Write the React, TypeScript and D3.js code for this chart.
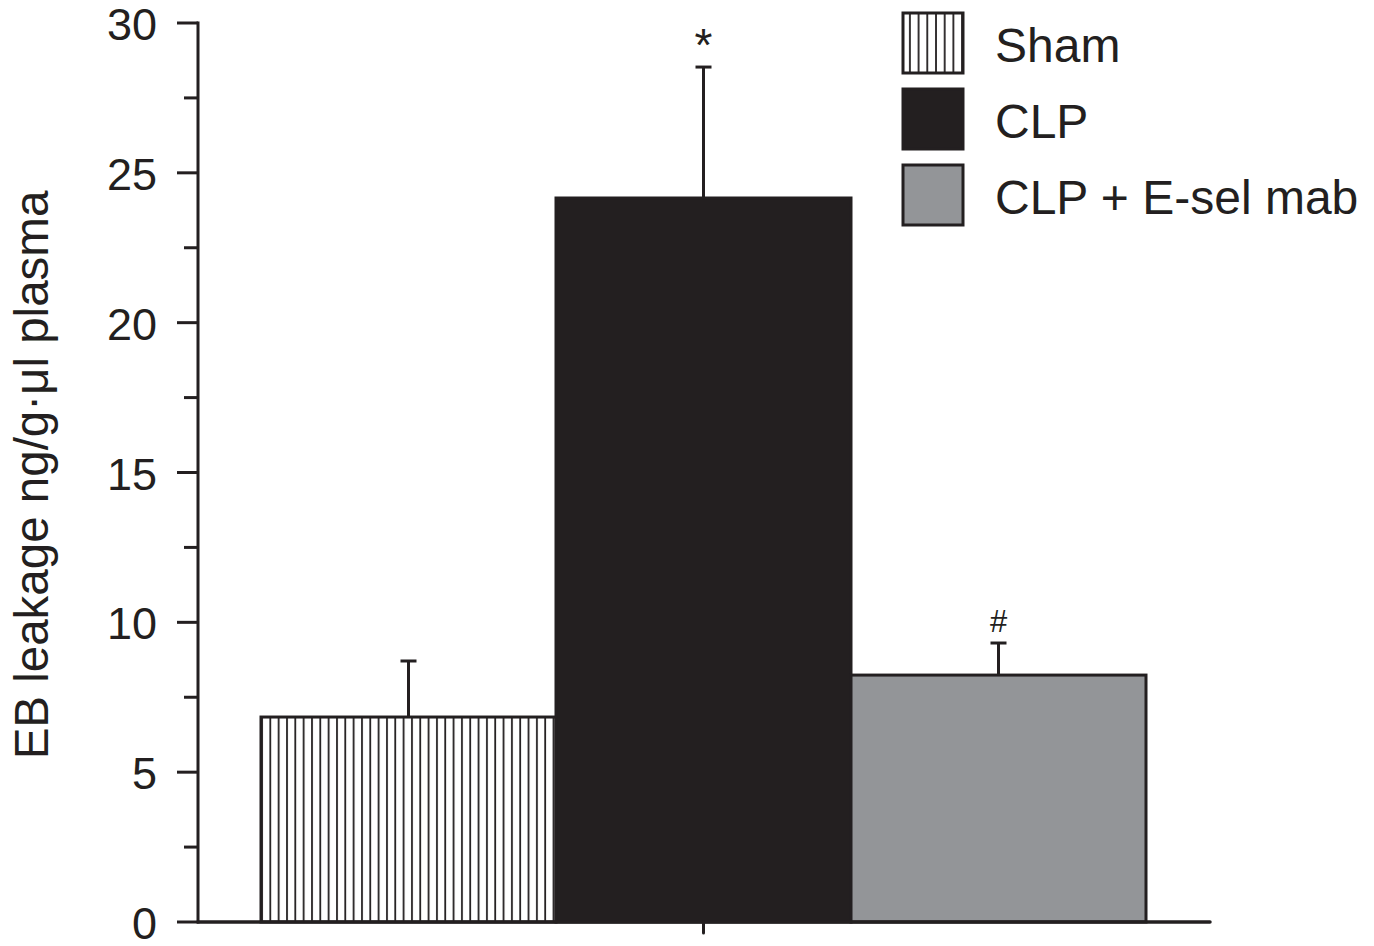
import * as d3 from "d3";
import React from "react";

// values
const groups = ["Sham", "CLP", "CLP + E-sel mab"];
const means = [6.84, 24.16, 8.24];
const errors = [1.87, 4.37, 1.07];
const marks = ["", "*", "#"];
const yTicks = [0, 5, 10, 15, 20, 25, 30];
const yMinorTicks = [2.5, 7.5, 12.5, 17.5, 22.5, 27.5];

const ink = "#231f20";
const grey = "#939598";
const font = "'Liberation Sans', Arial, Helvetica, sans-serif";

export default function App() {
  const width = 1374;
  const height = 946;
  const axisX = 198;
  const axisY = 922;

  const y = d3.scaleLinear().domain([0, 30]).range([axisY, 23]);
  const x = d3.scaleBand().domain(groups).range([261, 1146]).padding(0);

  const fills = ["url(#hatch)", ink, grey];
  const legendFills = ["url(#hatchLegend)", ink, grey];

  return (
    <svg
      width={width}
      height={height}
      style={{ position: "absolute", left: 0, top: 0, background: "#fff" }}
      fontFamily={font}
    >
      <defs>
        <pattern id="hatch" patternUnits="userSpaceOnUse" x={261} y={0} width={8.33} height={10}>
          <rect width={8.33} height={10} fill="#fff" />
          <line x1={1} x2={1} y1={0} y2={10} stroke={ink} strokeWidth={1.8} />
        </pattern>
        <pattern id="hatchLegend" patternUnits="userSpaceOnUse" x={902} y={0} width={8.7} height={10}>
          <rect width={8.7} height={10} fill="#fff" />
          <line x1={1} x2={1} y1={0} y2={10} stroke={ink} strokeWidth={1.8} />
        </pattern>
      </defs>

      {/* bars */}
      {groups.map((g, i) => (
        <rect
          key={g}
          x={x(g)}
          y={y(means[i])}
          width={x.bandwidth()}
          height={y(0) - y(means[i])}
          fill={fills[i]}
          stroke={ink}
          strokeWidth={3}
        />
      ))}

      {/* error bars */}
      {groups.map((g, i) => {
        const cx = (x(g) as number) + x.bandwidth() / 2;
        return (
          <g key={g + "err"} stroke={ink} strokeWidth={3}>
            <line x1={cx} x2={cx} y1={y(means[i])} y2={y(means[i] + errors[i])} />
            <line x1={cx - 8} x2={cx + 8} y1={y(means[i] + errors[i])} y2={y(means[i] + errors[i])} />
          </g>
        );
      })}

      {/* significance marks */}
      <text
        x={(x(groups[1]) as number) + x.bandwidth() / 2}
        y={y(means[1] + errors[1]) - 6}
        textAnchor="middle"
        fontSize={46}
        fill={ink}
      >
        {marks[1]}
      </text>
      <text
        x={(x(groups[2]) as number) + x.bandwidth() / 2}
        y={y(means[2] + errors[2]) - 11}
        textAnchor="middle"
        fontSize={31}
        fill={ink}
      >
        {marks[2]}
      </text>

      {/* y axis */}
      <line x1={axisX} x2={axisX} y1={y(30) - 1.5} y2={axisY + 1.5} stroke={ink} strokeWidth={3} />
      {yTicks.map((t) => (
        <g key={t}>
          <line x1={axisX - 21} x2={axisX} y1={y(t)} y2={y(t)} stroke={ink} strokeWidth={3} />
          <text x={157} y={y(t) + 17} textAnchor="end" fontSize={45} fill={ink}>
            {t}
          </text>
        </g>
      ))}
      {yMinorTicks.map((t) => (
        <line key={t} x1={axisX - 14} x2={axisX} y1={y(t)} y2={y(t)} stroke={ink} strokeWidth={3} />
      ))}

      {/* x axis */}
      <line x1={axisX} x2={1210} y1={axisY} y2={axisY} stroke={ink} strokeWidth={3.5} strokeLinecap="round" />
      <line
        x1={(x(groups[1]) as number) + x.bandwidth() / 2}
        x2={(x(groups[1]) as number) + x.bandwidth() / 2}
        y1={axisY}
        y2={axisY + 11}
        stroke={ink}
        strokeWidth={3}
        strokeLinecap="round"
      />

      {/* y axis title */}
      <text
        transform={`translate(48, 475) rotate(-90)`}
        textAnchor="middle"
        fontSize={47.5}
        fill={ink}
      >
        EB leakage ng/g·μl plasma
      </text>

      {/* legend */}
      {groups.map((g, i) => (
        <g key={g + "leg"} transform={`translate(903, ${13 + i * 76})`}>
          <rect width={60} height={60} fill={legendFills[i]} stroke={ink} strokeWidth={3} />
          <text x={92} y={49} fontSize={48} fill={ink}>
            {g}
          </text>
        </g>
      ))}
    </svg>
  );
}
